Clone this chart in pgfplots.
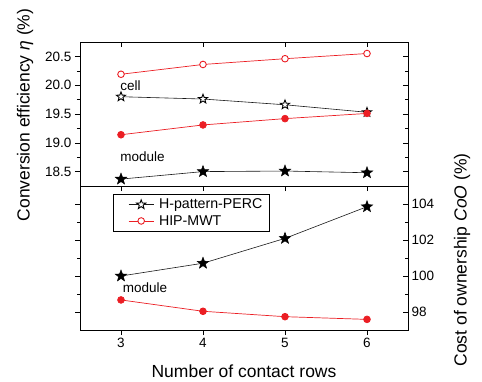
\documentclass[border=0pt]{standalone}
\usepackage{fontspec}
\setmainfont{Liberation Sans}
\usepackage{pgfplots}
\pgfplotsset{compat=1.18}
\definecolor{myred}{RGB}{235,30,36}
\definecolor{myblack}{RGB}{25,25,25}
\pgfdeclareplotmark{mystar}{%
 \pgfpathmoveto{\pgfpointpolar{90}{\pgfplotmarksize}}%
 \pgfpathlineto{\pgfpointpolar{126}{0.42\pgfplotmarksize}}%
 \pgfpathlineto{\pgfpointpolar{162}{\pgfplotmarksize}}%
 \pgfpathlineto{\pgfpointpolar{198}{0.42\pgfplotmarksize}}%
 \pgfpathlineto{\pgfpointpolar{234}{\pgfplotmarksize}}%
 \pgfpathlineto{\pgfpointpolar{270}{0.42\pgfplotmarksize}}%
 \pgfpathlineto{\pgfpointpolar{306}{\pgfplotmarksize}}%
 \pgfpathlineto{\pgfpointpolar{342}{0.42\pgfplotmarksize}}%
 \pgfpathlineto{\pgfpointpolar{18}{\pgfplotmarksize}}%
 \pgfpathlineto{\pgfpointpolar{54}{0.42\pgfplotmarksize}}%
 \pgfpathclose
 \pgfusepathqfillstroke}
\begin{document}
\begin{tikzpicture}
\useasboundingbox (0pt,0pt) rectangle (482pt,381pt);
\pgfplotsset{
 every axis/.append style={scale only axis, width=328pt, height=144pt,
   xmin=2.5, xmax=6.5, /pgf/number format/assume math mode=true,
   tick label style={font=\fontsize{13.5}{15}\selectfont},
   major tick length=5pt, minor tick length=3pt,
   tick style={black, line width=0.6pt},
   axis line style={line width=0.8pt}},
}
% ---------- top panel ----------
\begin{axis}[at={(80pt,195pt)}, anchor=south west,
  ymin=18.25, ymax=20.75, xtick={3,4,5,6}, xticklabels={},
  xtick pos=bottom, ytick pos=left, tick align=outside,
  ytick={18.5,19.0,19.5,20.0,20.5}, minor y tick num=1,
  yticklabel style={/pgf/number format/fixed, /pgf/number format/precision=1, /pgf/number format/fixed zerofill}]
\addplot[myred, line width=0.7pt, mark=*, mark size=3.3pt, mark options={fill=white, draw=myred, line width=0.9pt}] coordinates {(3,20.19) (4,20.36) (5,20.46) (6,20.55)};
\addplot[myblack, line width=0.6pt, mark=mystar, mark size=4.8pt, mark options={fill=white, draw=black, line width=0.9pt}] coordinates {(3,19.80) (4,19.76) (5,19.66) (6,19.53)};
\addplot[myred, line width=0.7pt, mark=*, mark size=3.4pt, mark options={fill=myred, draw=myred}] coordinates {(3,19.14) (4,19.31) (5,19.42) (6,19.51)};
\addplot[myblack, line width=0.6pt, mark=mystar, mark size=6pt, mark options={fill=black, draw=black, line width=0.5pt}] coordinates {(3,18.37) (4,18.50) (5,18.51) (6,18.48)};
\node[anchor=west, inner sep=0pt, font=\fontsize{13.5}{15}\selectfont] at (axis cs:2.99,20.0) {cell};
\node[anchor=west, inner sep=0pt, font=\fontsize{13.5}{15}\selectfont] at (axis cs:2.99,18.76) {module};
\end{axis}
\begin{axis}[at={(80pt,195pt)}, anchor=south west,
  ymin=18.25, ymax=20.75, xtick={3,4,5,6}, xticklabels={}, yticklabels={},
  xtick pos=top, ytick pos=right, tick align=inside,
  ytick={18.5,19.0,19.5,20.0,20.5}, minor y tick num=1]
\end{axis}
% ---------- bottom panel ----------
\begin{axis}[at={(80pt,51pt)}, anchor=south west,
  ymin=97, ymax=105, xtick={3,4,5,6},
  xtick pos=bottom, ytick pos=left, tick align=outside,
  ytick={98,100,102,104}, minor y tick num=1, yticklabels={},
  legend cell align=left,
  legend image code/.code={\path (-10pt,0pt) (28pt,0pt); \draw[mark repeat=2, mark phase=2, #1] plot coordinates {(0pt,0pt) (12.5pt,0pt) (25pt,0pt)};},
  legend style={at={(0.1006,0.944)}, anchor=north west, draw=black, line width=0.7pt,
    font=\fontsize{14.2}{16}\selectfont, inner xsep=5pt, inner ysep=2.5pt, row sep=1pt}]
\addlegendimage{myblack, line width=0.6pt, mark=mystar, mark size=4.8pt, mark options={fill=white, draw=black, line width=0.9pt}}
\addlegendentry{H-pattern-PERC}
\addlegendimage{myred, line width=0.7pt, mark=*, mark size=3.3pt, mark options={fill=white, draw=myred, line width=0.9pt}}
\addlegendentry{HIP-MWT}
\addplot[forget plot, myblack, line width=0.6pt, mark=mystar, mark size=6pt, mark options={fill=black, draw=black, line width=0.5pt}] coordinates {(3,100.0) (4,100.71) (5,102.09) (6,103.85)};
\addplot[forget plot, myred, line width=0.7pt, mark=*, mark size=3.4pt, mark options={fill=myred, draw=myred}] coordinates {(3,98.67) (4,98.04) (5,97.74) (6,97.59)};
\node[anchor=west, inner sep=0pt, font=\fontsize{13.5}{15}\selectfont] at (axis cs:3.02,99.33) {module};
\end{axis}
\begin{axis}[at={(80pt,51pt)}, anchor=south west,
  ymin=97, ymax=105, xtick=\empty,
  ytick pos=right, yticklabel pos=right, tick align=inside,
  ytick={98,100,102,104}, minor y tick num=1]
\end{axis}
% ---------- labels ----------
\node[rotate=90, font=\fontsize{17.5}{20}\selectfont] at (25pt,266pt) {Conversion efficiency \textit{η} (\%)};
\node[rotate=90, font=\fontsize{17.5}{20}\selectfont] at (462pt,121pt) {Cost of ownership \textit{CoO} (\%)};
\node[font=\fontsize{17.5}{20}\selectfont] at (244pt,10pt) {Number of contact rows};
\end{tikzpicture}
\end{document}
